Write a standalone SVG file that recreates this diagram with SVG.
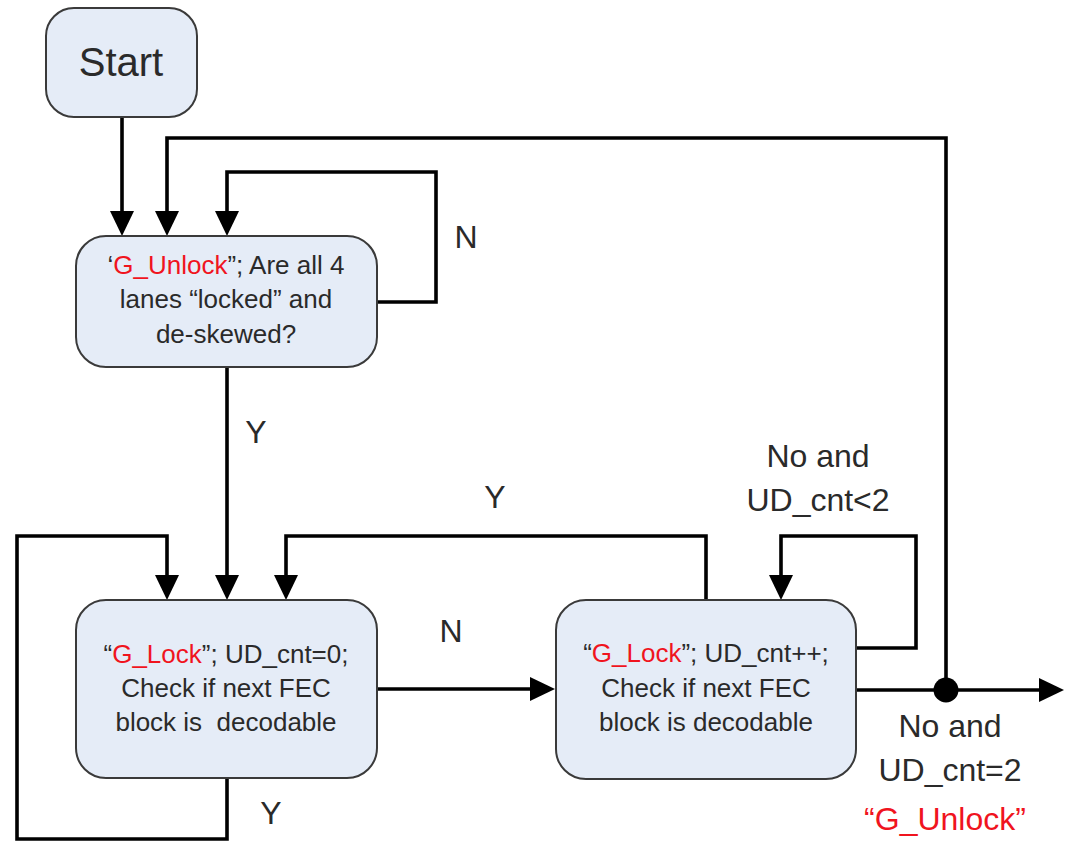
<svg xmlns="http://www.w3.org/2000/svg" width="1065" height="841" viewBox="0 0 1065 841">
<style>
.box{fill:#e5ecf7;stroke:#3a3a3a;stroke-width:2}
.t{font-family:"Liberation Sans",Arial,sans-serif;font-size:26px;fill:#2a2a2a;text-anchor:middle;white-space:pre}
.lbl{font-family:"Liberation Sans",Arial,sans-serif;font-size:32px;fill:#2a2a2a;text-anchor:middle}
.red{fill:#f0141e}
.c{fill:none;stroke:#000;stroke-width:3.6}
.a{marker-end:url(#ah)}
</style>
<defs>
<marker id="ah" viewBox="0 0 25 24" refX="17" refY="12" markerWidth="25" markerHeight="24" markerUnits="userSpaceOnUse" orient="auto">
<path d="M0,0 L25,12 L0,24 Z" fill="#000"/>
</marker>
</defs>
<rect width="1065" height="841" fill="#fff"/>
<g id="connectors">
<path class="c a" d="M122,117 V228"/>
<path class="c a" d="M946,690 V138 H167 V228"/>
<path class="c a" d="M377,302 H436 V172 H227 V228"/>
<path class="c a" d="M227,367 V592"/>
<path class="c a" d="M227,778 V839 H17 V536 H167 V592"/>
<path class="c a" d="M377,689 H547"/>
<path class="c a" d="M706,600 V536 H286 V592"/>
<path class="c a" d="M856,648 H916 V536 H781 V592"/>
<path class="c a" d="M856,690 H1056"/>
<circle cx="946" cy="690" r="12.5" fill="#000"/>
<text class="lbl" x="466" y="248">N</text>
<text class="lbl" x="256" y="443">Y</text>
<text class="lbl" x="495" y="508">Y</text>
<text class="lbl" x="451" y="642">N</text>
<text class="lbl" x="271" y="824">Y</text>
<text class="lbl" x="818" y="467">No and</text>
<text class="lbl" x="818" y="511">UD_cnt&lt;2</text>
<text class="lbl" x="950" y="737">No and</text>
<text class="lbl" x="950" y="781">UD_cnt=2</text>
<text class="lbl red" x="945" y="830">“G_Unlock”</text>
</g>
<g id="start">
<rect class="box" x="46" y="8" width="151" height="109" rx="28"/>
<text class="t" x="121" y="76" style="font-size:40px">Start</text>
</g>
<g id="unlock">
<rect class="box" x="76" y="236" width="301" height="131" rx="30"/>
<text class="t" x="226" y="274">‘<tspan class="red">G_Unlock</tspan>”; Are all 4</text>
<text class="t" x="226" y="308">lanes “locked” and</text>
<text class="t" x="226" y="343">de-skewed?</text>
</g>
<g id="lock0">
<rect class="box" x="76" y="600" width="301" height="178" rx="30"/>
<text class="t" x="226" y="663">“<tspan class="red">G_Lock</tspan>”; UD_cnt=0;</text>
<text class="t" x="226" y="697">Check if next FEC</text>
<text class="t" x="226" y="731">block is  decodable</text>
</g>
<g id="lockn">
<rect class="box" x="556" y="600" width="300" height="179" rx="30"/>
<text class="t" x="706" y="662">“<tspan class="red">G_Lock</tspan>”; UD_cnt++;</text>
<text class="t" x="706" y="697">Check if next FEC</text>
<text class="t" x="706" y="731">block is decodable</text>
</g>
</svg>
